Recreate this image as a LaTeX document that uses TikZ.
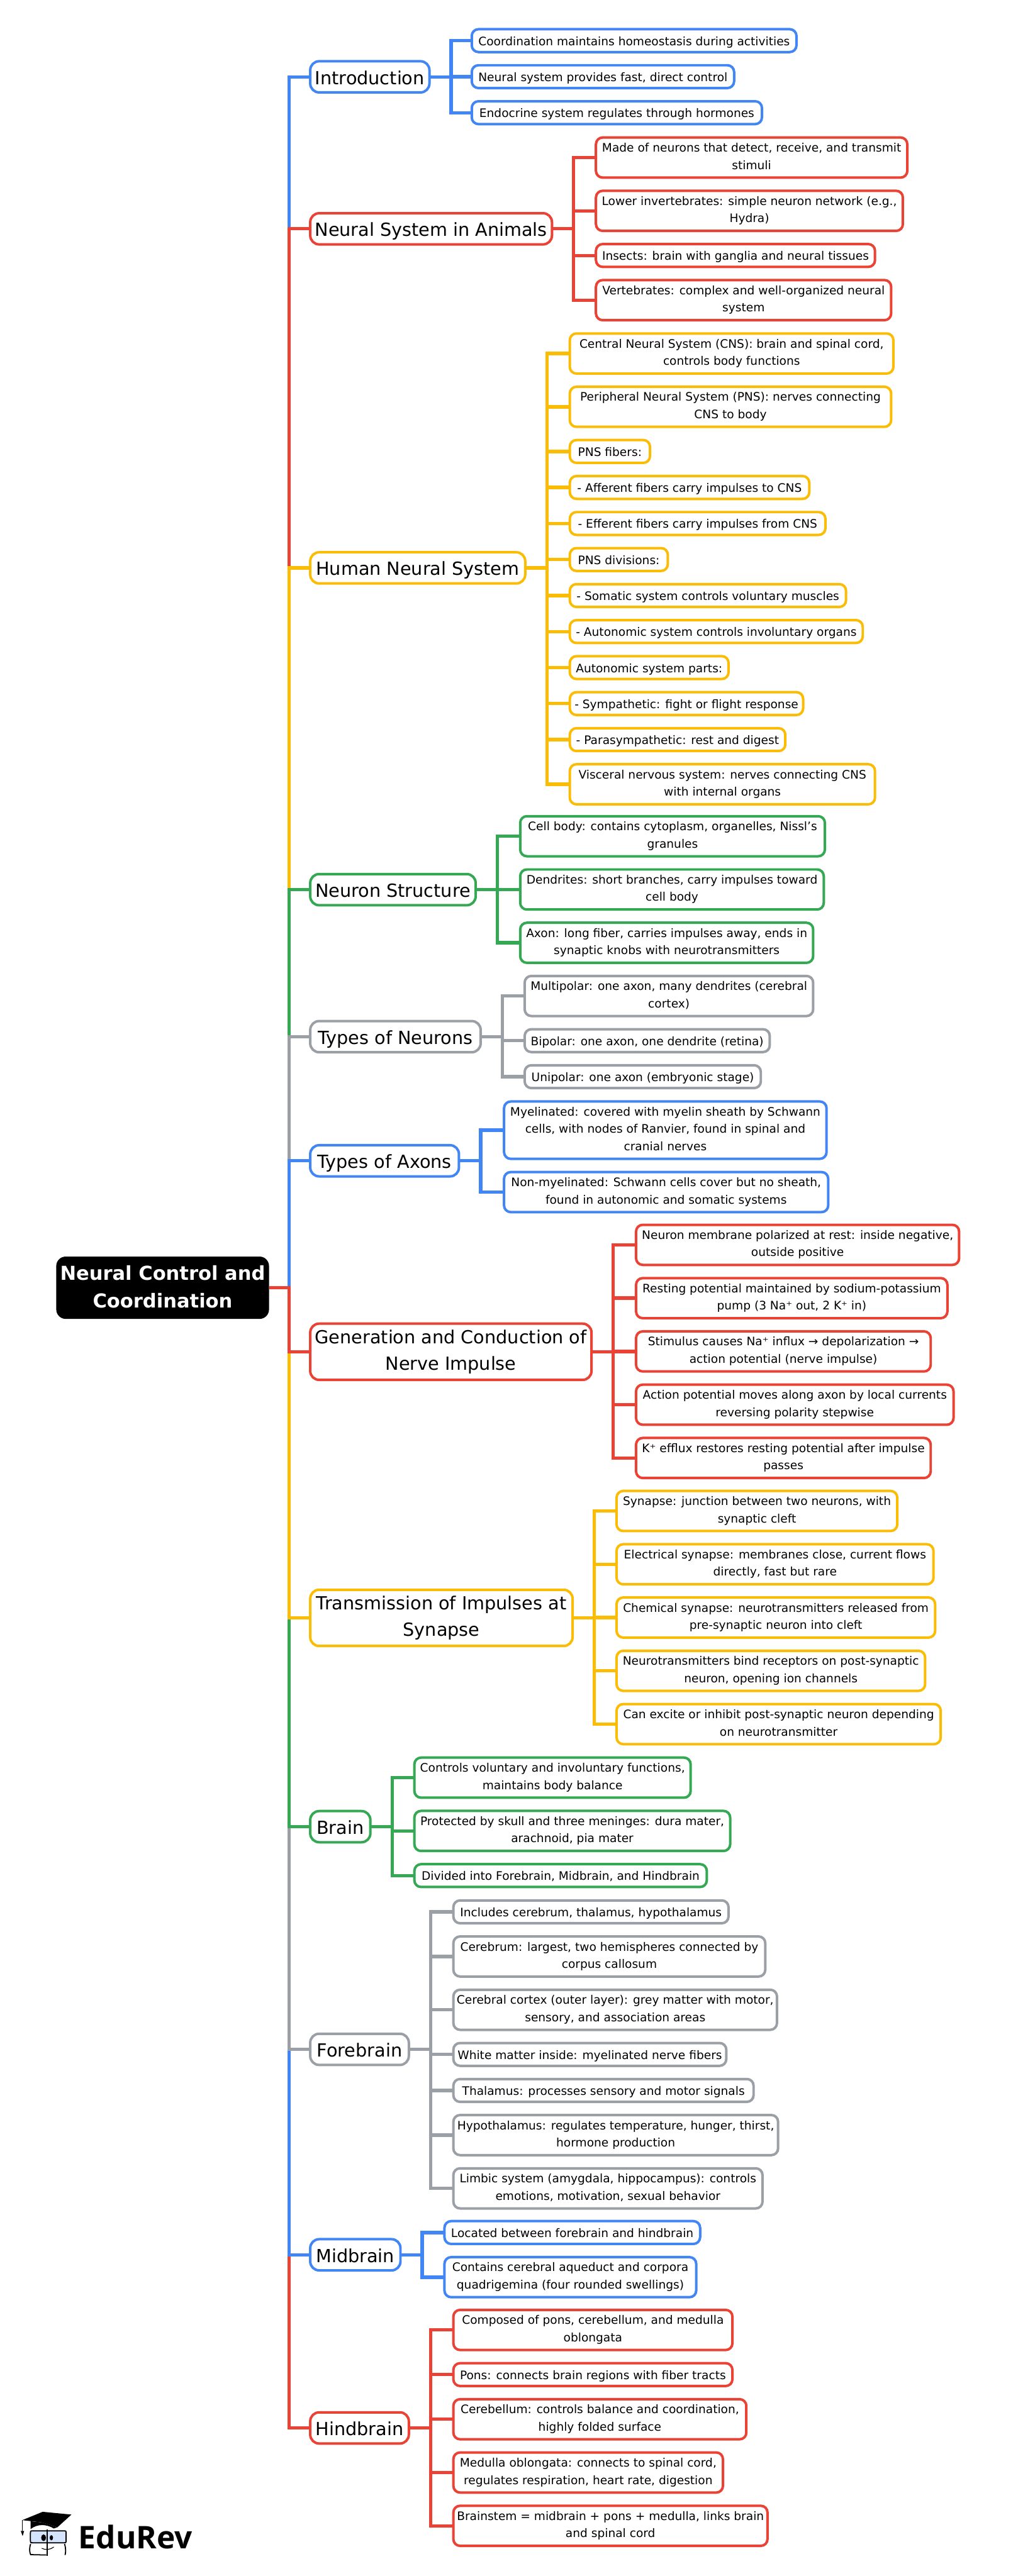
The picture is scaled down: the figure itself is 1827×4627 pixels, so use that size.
\documentclass[tikz,border=0pt]{standalone}
\usepackage{fontspec}
\setmainfont{DejaVu Sans}
\newfontfamily\logofont{Open Sans}
\usetikzlibrary{positioning}
\definecolor{cblue}{HTML}{4285F4}
\definecolor{cred}{HTML}{EA4335}
\definecolor{cyel}{HTML}{FBBC05}
\definecolor{cgrn}{HTML}{34A853}
\definecolor{cgry}{HTML}{9AA0A6}
\def \gp {23.7pt}
\def \lfont {\fontsize{21}{31}\selectfont}
\def \bfont {\fontsize{32.4}{47}\selectfont}
\def \rfont {\fontsize{34.5}{50}\selectfont\bfseries}
\def \lstra {\rule[-7pt]{0pt}{31pt}}
\def \lstrb {\rule[-5pt]{0pt}{31pt}}
\def \bstra {\rule[-10pt]{0pt}{47pt}}
\def \bstrb {\rule[-4pt]{0pt}{47pt}}
\def \rstr {\rule[-3pt]{0pt}{50pt}}
\tikzstyle{leaf} = [line width=4.5pt,rounded corners=12pt,inner sep=0,outer sep=0,align=center,anchor=west,font=\lfont]
\tikzstyle{leafa} = [leaf,minimum height=41pt,execute at begin node=\lstra,execute at end node=\lstra]
\tikzstyle{leafb} = [leaf,minimum height=72pt,execute at begin node=\lstrb,execute at end node=\lstrb]
\tikzstyle{leafc} = [leaf,minimum height=103pt,execute at begin node=\lstrb,execute at end node=\lstrb]
\tikzstyle{branch} = [line width=4.5pt,rounded corners=16pt,inner sep=0,outer sep=0,align=center,anchor=west,font=\bfont]
\tikzstyle{brancha} = [branch,minimum height=56pt,execute at begin node=\bstra,execute at end node=\bstra]
\tikzstyle{branchb} = [branch,minimum height=101pt,execute at begin node=\bstrb,execute at end node=\bstrb]
\tikzstyle{rootbox} = [fill=black,text=white,rounded corners=17pt,inner sep=0,outer sep=0,align=center,anchor=west,font=\rfont,minimum width=382pt,minimum height=112pt,execute at begin node=\rstr,execute at end node=\rstr]
\tikzstyle{link} = [line width=6pt]
\tikzset{under/.style={below=\gp of #1.south west,anchor=north west}}

\begin{document}
\begin{tikzpicture}[x=1pt,y=-1pt]
  \useasboundingbox (0,0) rectangle (1827,4627);
  \node[rootbox] (root) at (101,2313) {Neural Control and\\Coordination};
  \coordinate (trunk) at (519,2313);
  % branches
  \node[brancha,draw=cblue,minimum width=214pt] (intro) at (557,138) {Introduction};
  \node[brancha,draw=cred,minimum width=434pt] (animals) at (557,411) {Neural System in Animals};
  \node[brancha,draw=cyel,minimum width=386pt] (human) at (557,1020) {Human Neural System};
  \node[brancha,draw=cgrn,minimum width=297pt] (neuron) at (557,1598) {Neuron Structure};
  \node[brancha,draw=cgry,minimum width=306pt] (types) at (557,1862) {Types of Neurons};
  \node[brancha,draw=cblue,minimum width=267pt] (axons) at (557,2085) {Types of Axons};
  \node[branchb,draw=cred,minimum width=505pt] (impulse) at (557,2428) {Generation and Conduction of\\Nerve Impulse};
  \node[branchb,draw=cyel,minimum width=471pt] (synapse) at (557,2906) {Transmission of Impulses at\\Synapse};
  \node[brancha,draw=cgrn,minimum width=108pt] (brain) at (557,3281) {Brain};
  \node[brancha,draw=cgry,minimum width=177pt] (fore) at (557,3681) {Forebrain};
  \node[brancha,draw=cblue,minimum width=162pt] (mid) at (557,4050) {Midbrain};
  \node[brancha,draw=cred,minimum width=177pt] (hind) at (557,4361) {Hindbrain};
  % introduction
  \node[leafa,draw=cblue,minimum width=583pt] (i1) at (847,73) {Coordination maintains homeostasis during activities};
  \node[leafa,under=i1,draw=cblue,minimum width=471pt] (i2) {Neural system provides fast, direct control};
  \node[leafa,under=i2,draw=cblue,minimum width=521pt] (i3) {Endocrine system regulates through hormones};
  % animals
  \node[leafb,draw=cred,minimum width=559pt] (n1) at (1070,283) {Made of neurons that detect, receive, and transmit\\stimuli};
  \node[leafb,under=n1,draw=cred,minimum width=551pt] (n2) {Lower invertebrates: simple neuron network (e.g.,\\Hydra)};
  \node[leafa,under=n2,draw=cred,minimum width=501pt] (n3) {Insects: brain with ganglia and neural tissues};
  \node[leafb,under=n3,draw=cred,minimum width=530pt] (n4) {Vertebrates: complex and well-organized neural\\system};
  % human
  \node[leafb,draw=cyel,minimum width=581pt] (h1) at (1023,635) {Central Neural System (CNS): brain and spinal cord,\\controls body functions};
  \node[leafb,under=h1,draw=cyel,minimum width=577pt] (h2) {Peripheral Neural System (PNS): nerves connecting\\CNS to body};
  \node[leafa,under=h2,draw=cyel,minimum width=144pt] (h3) {PNS fibers:};
  \node[leafa,under=h3,draw=cyel,minimum width=430pt] (h4) {- Afferent fibers carry impulses to CNS};
  \node[leafa,under=h4,draw=cyel,minimum width=459pt] (h5) {- Efferent fibers carry impulses from CNS};
  \node[leafa,under=h5,draw=cyel,minimum width=176pt] (h6) {PNS divisions:};
  \node[leafa,under=h6,draw=cyel,minimum width=496pt] (h7) {- Somatic system controls voluntary muscles};
  \node[leafa,under=h7,draw=cyel,minimum width=526pt] (h8) {- Autonomic system controls involuntary organs};
  \node[leafa,under=h8,draw=cyel,minimum width=285pt] (h9) {Autonomic system parts:};
  \node[leafa,under=h9,draw=cyel,minimum width=419pt] (h10) {- Sympathetic: fight or flight response};
  \node[leafa,under=h10,draw=cyel,minimum width=387pt] (h11) {- Parasympathetic: rest and digest};
  \node[leafb,under=h11,draw=cyel,minimum width=548pt] (h12) {Visceral nervous system: nerves connecting CNS\\with internal organs};
  % neuron
  \node[leafb,draw=cgrn,minimum width=547pt] (s1) at (934,1502) {Cell body: contains cytoplasm, organelles, Nissl’s\\granules};
  \node[leafb,under=s1,draw=cgrn,minimum width=545pt] (s2) {Dendrites: short branches, carry impulses toward\\cell body};
  \node[leafb,under=s2,draw=cgrn,minimum width=526pt] (s3) {Axon: long fiber, carries impulses away, ends in\\synaptic knobs with neurotransmitters};
  % types
  \node[leafb,draw=cgry,minimum width=518pt] (t1) at (942,1789) {Multipolar: one axon, many dendrites (cerebral\\cortex)};
  \node[leafa,under=t1,draw=cgry,minimum width=440pt] (t2) {Bipolar: one axon, one dendrite (retina)};
  \node[leafa,under=t2,draw=cgry,minimum width=424pt] (t3) {Unipolar: one axon (embryonic stage)};
  % axons
  \node[leafc,draw=cblue,minimum width=579pt] (a1) at (905,2030) {Myelinated: covered with myelin sheath by Schwann\\cells, with nodes of Ranvier, found in spinal and\\cranial nerves};
  \node[leafb,under=a1,draw=cblue,minimum width=582pt] (a2) {Non-myelinated: Schwann cells cover but no sheath,\\found in autonomic and somatic systems};
  % impulse
  \node[leafb,draw=cred,minimum width=580pt] (g1) at (1142,2236) {Neuron membrane polarized at rest: inside negative,\\outside positive};
  \node[leafb,under=g1,draw=cred,minimum width=559pt] (g2) {Resting potential maintained by sodium-potassium\\pump (3 Na⁺ out, 2 K⁺ in)};
  \node[leafb,under=g2,draw=cred,minimum width=529pt] (g3) {Stimulus causes Na⁺ influx → depolarization →\\action potential (nerve impulse)};
  \node[leafb,under=g3,draw=cred,minimum width=570pt] (g4) {Action potential moves along axon by local currents\\reversing polarity stepwise};
  \node[leafb,under=g4,draw=cred,minimum width=529pt] (g5) {K⁺ efflux restores resting potential after impulse\\passes};
  % synapse
  \node[leafb,draw=cyel,minimum width=504pt] (y1) at (1107,2714) {Synapse: junction between two neurons, with\\synaptic cleft};
  \node[leafb,under=y1,draw=cyel,minimum width=569pt] (y2) {Electrical synapse: membranes close, current flows\\directly, fast but rare};
  \node[leafb,under=y2,draw=cyel,minimum width=572pt] (y3) {Chemical synapse: neurotransmitters released from\\pre-synaptic neuron into cleft};
  \node[leafb,under=y3,draw=cyel,minimum width=554pt] (y4) {Neurotransmitters bind receptors on post-synaptic\\neuron, opening ion channels};
  \node[leafb,under=y4,draw=cyel,minimum width=582pt] (y5) {Can excite or inhibit post-synaptic neuron depending\\on neurotransmitter};
  % brain
  \node[leafb,draw=cgrn,minimum width=496pt] (b1) at (744,3193) {Controls voluntary and involuntary functions,\\maintains body balance};
  \node[leafb,under=b1,draw=cgrn,minimum width=567pt] (b2) {Protected by skull and three meninges: dura mater,\\arachnoid, pia mater};
  \node[leafa,under=b2,draw=cgrn,minimum width=525pt] (b3) {Divided into Forebrain, Midbrain, and Hindbrain};
  % forebrain
  \node[leafa,draw=cgry,minimum width=494pt] (f1) at (814,3434) {Includes cerebrum, thalamus, hypothalamus};
  \node[leafb,under=f1,draw=cgry,minimum width=560pt] (f2) {Cerebrum: largest, two hemispheres connected by\\corpus callosum};
  \node[leafb,under=f2,draw=cgry,minimum width=581pt] (f3) {Cerebral cortex (outer layer): grey matter with motor,\\sensory, and association areas};
  \node[leafa,under=f3,draw=cgry,minimum width=490pt] (f4) {White matter inside: myelinated nerve fibers};
  \node[leafa,under=f4,draw=cgry,minimum width=539pt] (f5) {Thalamus: processes sensory and motor signals};
  \node[leafb,under=f5,draw=cgry,minimum width=583pt] (f6) {Hypothalamus: regulates temperature, hunger, thirst,\\hormone production};
  \node[leafb,under=f6,draw=cgry,minimum width=555pt] (f7) {Limbic system (amygdala, hippocampus): controls\\emotions, motivation, sexual behavior};
  % midbrain
  \node[leafa,draw=cblue,minimum width=459pt] (m1) at (798,4010) {Located between forebrain and hindbrain};
  \node[leafb,under=m1,draw=cblue,minimum width=452pt] (m2) {Contains cerebral aqueduct and corpora\\quadrigemina (four rounded swellings)};
  % hindbrain
  \node[leafb,draw=cred,minimum width=501pt] (r1) at (814,4185) {Composed of pons, cerebellum, and medulla\\oblongata};
  \node[leafa,under=r1,draw=cred,minimum width=501pt] (r2) {Pons: connects brain regions with fiber tracts};
  \node[leafb,under=r2,draw=cred,minimum width=526pt] (r3) {Cerebellum: controls balance and coordination,\\highly folded surface};
  \node[leafb,under=r3,draw=cred,minimum width=484pt] (r4) {Medulla oblongata: connects to spinal cord,\\regulates respiration, heart rate, digestion};
  \node[leafb,under=r4,draw=cred,minimum width=564pt] (r5) {Brainstem = midbrain + pons + medulla, links brain\\and spinal cord};
  % connectors
  \foreach \brn/\col in {intro/cblue,animals/cred,human/cyel,neuron/cgrn,types/cgry,axons/cblue,hind/cred,mid/cblue,fore/cgry,brain/cgrn,synapse/cyel,impulse/cred}
    \draw[link,draw=\col] (root.east) -- (trunk) |- (\brn.west);
  \foreach \brn/\col/\kids in {intro/cblue/{i1,i2,i3},animals/cred/{n1,n2,n3,n4},human/cyel/{h1,h2,h3,h4,h5,h6,h7,h8,h9,h10,h11,h12},neuron/cgrn/{s1,s2,s3},types/cgry/{t1,t2,t3},axons/cblue/{a1,a2},impulse/cred/{g1,g2,g3,g4,g5},synapse/cyel/{y1,y2,y3,y4,y5},brain/cgrn/{b1,b2,b3},fore/cgry/{f1,f2,f3,f4,f5,f6,f7},mid/cblue/{m1,m2},hind/cred/{r1,r2,r3,r4,r5}}
    \foreach \kid in \kids
      \draw[link,draw=\col] (\brn.east) -- ++(39,0) |- (\kid.west);
  % logo
  \node[anchor=base west,inner sep=0,font={\logofont\fontsize{56}{56}\selectfont\bfseries}] (edurev) at (141,4578) {EduRev};
  \begin{scope}[shift={(20,4490)},x=0.333pt,y=-0.333pt]
    \fill (60,110) -- (170,65) -- (325,80) -- (250,148) -- (165,122) -- cycle;
    \fill (105,116) -- (165,122) -- (250,148) -- (230,155) .. controls (190,130) and (140,130) .. (105,158) -- cycle;
    \draw[line width=1.2pt] (60,110) -- (60,168);
    \fill (52,168) -- (70,168) -- (62,196) -- cycle;
    \draw[line width=2pt,fill=cblue!22] (118,168) -- (285,168) .. controls (296,168) .. (296,180) -- (296,220) .. controls (296,232) .. (285,232) -- (118,232) .. controls (104,232) .. (104,220) -- (104,180) .. controls (104,168) .. (118,168) -- cycle;
    \draw[line width=2pt] (105,238) .. controls (98,260) and (98,280) .. (105,296) -- (190,298);
    \draw[line width=2pt] (288,238) .. controls (295,260) and (295,280) .. (291,298);
    \draw[line width=1.6pt] (195,160) -- (195,302);
    \fill (175,205) ellipse (13 and 18);
    \fill (217,205) ellipse (9 and 14);
    \draw[line width=1.3pt] (165,262) .. controls (185,272) and (210,270) .. (230,255);
  \end{scope}
\end{tikzpicture}
\end{document}
